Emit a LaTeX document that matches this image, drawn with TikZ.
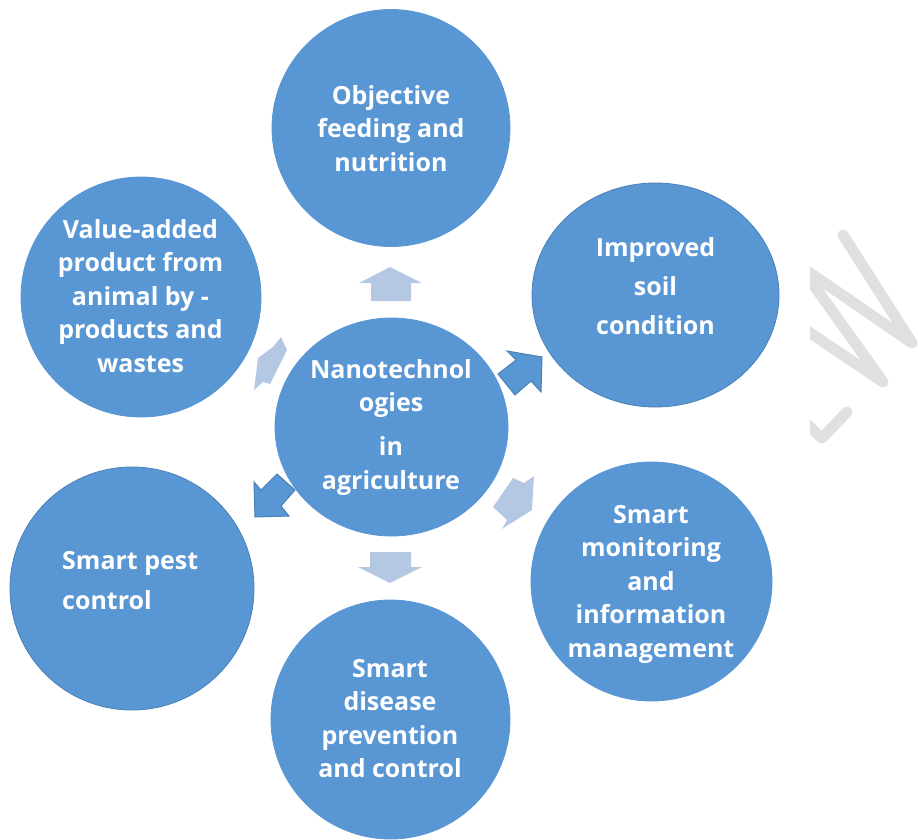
\documentclass[tikz,border=0pt]{standalone}
\usepackage{fontspec}
\setmainfont{Open Sans}[BoldFont={Open Sans Bold}]
\usetikzlibrary{shapes.geometric}
\definecolor{disccol}{HTML}{5896D4}
\definecolor{discedge}{HTML}{4A80B4}
\definecolor{lightarrow}{HTML}{B4C7E3}
\definecolor{wmcol}{HTML}{E0E0E0}
\tikzset{
  disc/.style={ellipse,draw=disccol,line width=0.8pt,fill=disccol,inner sep=0pt},
  edged/.style={draw=discedge},
  caption/.style={text=white,font=\fontsize{25}{33.5}\selectfont\bfseries,align=center,inner sep=0pt},
  pale/.style={fill=lightarrow,draw=none},
  strong/.style={fill=disccol,draw=discedge,line width=1pt,line join=miter},
  wmstroke/.style={wmcol,line width=11pt,line cap=round,line join=round},
}
\begin{document}
\begin{tikzpicture}[x=1pt,y=-1pt]
\useasboundingbox (0,0) rectangle (918,839);
% watermark
\begin{scope}
\clip (810,200) rectangle (918,460);
\draw[wmstroke] (843,235) -- (912,343) -- (800,266) -- (883,382) -- (800,326);
\draw[wmstroke] (847,412) -- (822,438) -- (800,418);
\end{scope}
% discs
\node[disc,minimum width=238pt,minimum height=237pt] (top) at (391,128) {};
\node[disc,edged,minimum width=247pt,minimum height=224pt] (right) at (655.5,295) {};
\node[disc,minimum width=241pt,minimum height=239pt] (lowright) at (651.5,581.5) {};
\node[disc,minimum width=239pt,minimum height=239pt] (bottom) at (390.5,719.5) {};
\node[disc,edged,minimum width=244pt,minimum height=243pt] (left) at (132,588.5) {};
\node[disc,minimum width=240pt,minimum height=240pt] (upleft) at (141,297) {};
\node[disc,minimum width=233pt,minimum height=218pt] (hub) at (391.5,427) {};
% captions
\node[caption] (ttop) at (391,128.5) {Objective\\feeding and\\nutrition};
\node[caption,font=\fontsize{25}{39}\selectfont\bfseries] (tright) at (655.5,286) {Improved\\soil\\condition};
\node[caption] (tlowright) at (651,584) {Smart\\monitoring\\and\\information\\management};
\node[caption] (tbottom) at (390,718.5) {Smart\\disease\\prevention\\and control};
\node[caption,font=\fontsize{25}{40}\selectfont\bfseries,align=left,anchor=west] (tleft) at (62,580.5) {Smart pest\\control};
\node[caption] (tupleft) at (140.5,296) {Value-added\\product from\\animal by -\\products and\\wastes};
\node[caption] (thub) at (391,427) {Nanotechnol\\ogies\\[10.5pt]in\\agriculture};
% arrows
\fill[pale] (390,267) -- (422,283) -- (411,283) -- (411,301) -- (371,301) -- (371,283) -- (359,283) -- cycle;
\fill[pale] (390,583) -- (422,567) -- (411,567) -- (411,552) -- (370,552) -- (370,567) -- (358,567) -- cycle;
\filldraw[strong] (542,357) -- (507,351) -- (516,360) -- (498,374) -- (515,395) -- (531,381) -- (541,392) -- cycle;
\filldraw[strong] (255,517) -- (254,482) -- (261,490) -- (277,474) -- (295,490) -- (281,506) -- (289,516) -- cycle;
\fill[pale] (281,337) -- (287,350) -- (270,384) -- (263,382) -- (254,390) -- (258,358) -- (273,347) -- cycle;
\fill[pale] (534,476) -- (532,510) -- (502,529) -- (507,520) -- (493,507) -- (513,478) -- (524,483) -- cycle;
\end{tikzpicture}
\end{document}
